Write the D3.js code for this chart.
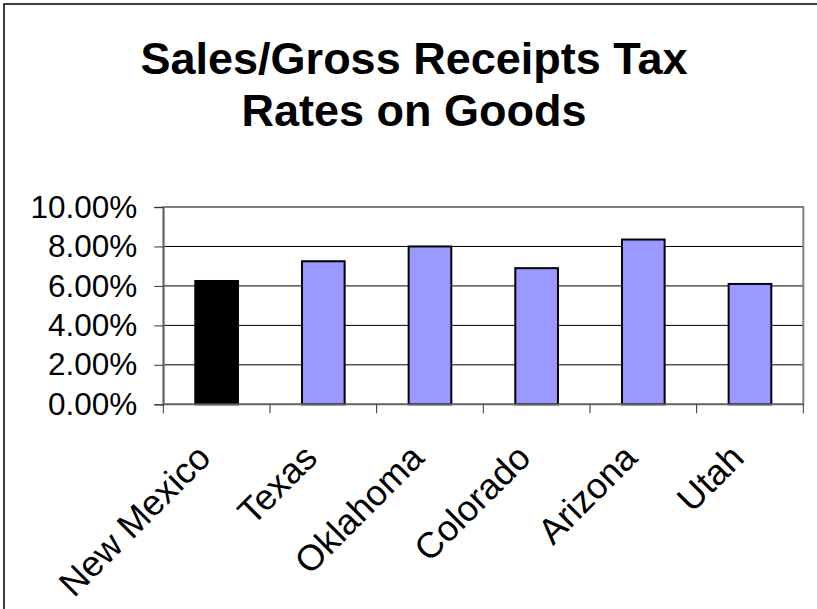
<!DOCTYPE html>
<html>
<head>
<meta charset="utf-8">
<script src="https://cdn.jsdelivr.net/npm/d3@7"></script>
<style>
  html, body { margin: 0; padding: 0; background: #fff; }
  svg { display: block; font-family: Arial, "Liberation Sans", sans-serif; }
</style>
</head>
<body>
<svg id="chart" width="817" height="609"></svg>
<script>
// Sales/gross receipts tax rates by state (percent)
const states = ["New Mexico", "Texas", "Oklahoma", "Colorado", "Arizona", "Utah"];
const rates = [6.25, 7.25, 8.0, 6.9, 8.35, 6.1];
const barColors = ["#000000", "#9999FF", "#9999FF", "#9999FF", "#9999FF", "#9999FF"];
const yTicks = [0, 2, 4, 6, 8, 10];
const titleLines = ["Sales/Gross Receipts Tax", "Rates on Goods"];

const W = 817, H = 609;
const plot = { left: 163.3, right: 803.3, top: 207, bottom: 404.3 };

const svg = d3.select("#chart");

// chart frame: only the left and top edges show
svg.append("path")
  .attr("d", `M4,${H} L4,4 L${W},4`)
  .attr("fill", "none")
  .attr("stroke", "#000")
  .attr("stroke-width", 1.5);

// title
svg.append("text")
  .attr("text-anchor", "middle")
  .attr("font-size", 45)
  .attr("font-weight", "bold")
  .selectAll("tspan")
  .data(titleLines)
  .join("tspan")
  .attr("x", 414)
  .attr("y", (d, i) => 74 + i * 52)
  .text(d => d);

const x = d3.scaleBand()
  .domain(states)
  .range([plot.left, plot.right])
  .paddingInner(0.6)
  .paddingOuter(0.3);

const y = d3.scaleLinear()
  .domain([0, 10])
  .range([plot.bottom, plot.top]);

// horizontal gridlines
svg.append("g")
  .selectAll("line")
  .data(yTicks.filter(t => t > 0 && t < 10))
  .join("line")
  .attr("x1", plot.left).attr("x2", plot.right)
  .attr("y1", d => y(d)).attr("y2", d => y(d))
  .attr("stroke", "#000")
  .attr("stroke-width", 1);

// plot area border
svg.append("rect")
  .attr("x", plot.left).attr("y", plot.top)
  .attr("width", plot.right - plot.left)
  .attr("height", plot.bottom - plot.top)
  .attr("fill", "none")
  .attr("stroke", "#808080")
  .attr("stroke-width", 2);

// bars
svg.append("g")
  .selectAll("rect")
  .data(states)
  .join("rect")
  .attr("x", d => x(d))
  .attr("width", x.bandwidth())
  .attr("y", (d, i) => y(rates[i]))
  .attr("height", (d, i) => y(0) - y(rates[i]))
  .attr("fill", (d, i) => barColors[i])
  .attr("stroke", "#000")
  .attr("stroke-width", 2);

// y axis
const yAxis = svg.append("g")
  .attr("transform", `translate(${plot.left},0)`)
  .call(d3.axisLeft(y).tickValues(yTicks).tickSize(9).tickPadding(17)
    .tickFormat(d => d.toFixed(2) + "%"));
yAxis.select(".domain").attr("stroke", "#666").attr("stroke-width", 1.5);
yAxis.selectAll(".tick line").attr("stroke", "#333");
yAxis.selectAll(".tick text")
  .attr("font-size", 31.5)
  .attr("font-family", "Arial, 'Liberation Sans', sans-serif")
  .attr("fill", "#000");

// x axis: tick marks on category boundaries
const step = x.step();
const boundaries = d3.range(states.length + 1).map(i => plot.left + i * step);
svg.append("line")
  .attr("x1", plot.left).attr("x2", plot.right)
  .attr("y1", plot.bottom).attr("y2", plot.bottom)
  .attr("stroke", "#666").attr("stroke-width", 1.5);
svg.append("g")
  .selectAll("line")
  .data(boundaries)
  .join("line")
  .attr("x1", d => d).attr("x2", d => d)
  .attr("y1", plot.bottom).attr("y2", plot.bottom + 9)
  .attr("stroke", "#333");

// rotated category labels
svg.append("g")
  .selectAll("text")
  .data(states)
  .join("text")
  .attr("transform", d => `translate(${x(d) + x.bandwidth() / 2 - 13},451) rotate(-45)`)
  .attr("text-anchor", "end")
  .attr("dy", "0.35em")
  .attr("font-size", 36)
  .attr("fill", "#000")
  .text(d => d);
</script>
</body>
</html>
